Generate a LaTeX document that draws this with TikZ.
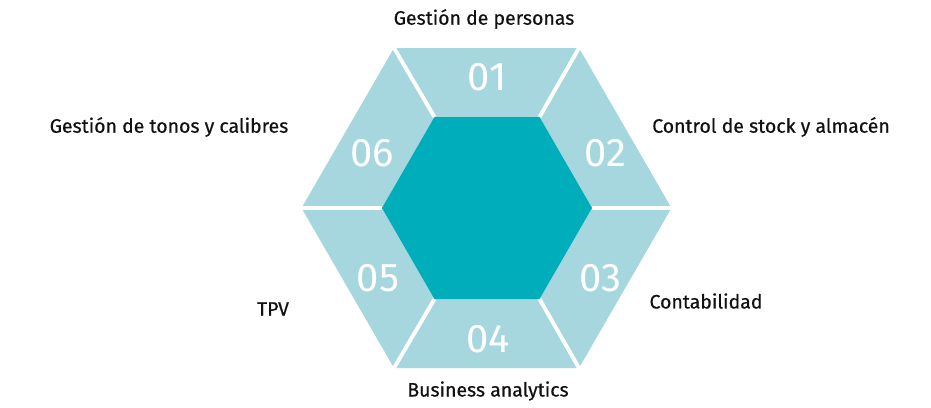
\documentclass[tikz,border=0pt]{standalone}
\usepackage{fontspec}
\setmainfont{Fira Sans}
\newfontfamily\lblfont[FakeBold=0.5]{Fira Sans}
\usetikzlibrary{calc}
\definecolor{seglight}{HTML}{A6D7DE}
\definecolor{segdark}{HTML}{00AEBB}
\definecolor{txt}{HTML}{111111}
\begin{document}
\begin{tikzpicture}[x=0.75pt,y=-0.75pt,
  lbl/.style={text=txt,font=\lblfont\fontsize{14.6}{16}\selectfont,inner sep=0pt},
  num/.style={text=white,font=\fontsize{30}{32}\selectfont,inner sep=0pt},
  gap/.style={white,line width=2.9pt}]
\useasboundingbox (0,0) rectangle (931,407);
% outer hexagon vertices
\coordinate (oL) at (301.5,208);
\coordinate (oTL) at (394,48);
\coordinate (oTR) at (579,48);
\coordinate (oR) at (671.5,208);
\coordinate (oBR) at (579,368);
\coordinate (oBL) at (394,368);
% inner hexagon vertices
\coordinate (iL) at (382,208);
\coordinate (iTL) at (434.5,117);
\coordinate (iTR) at (539.5,117);
\coordinate (iR) at (592,208);
\coordinate (iBR) at (539.5,299);
\coordinate (iBL) at (434.5,299);
\fill[seglight] (oL) -- (oTL) -- (oTR) -- (oR) -- (oBR) -- (oBL) -- cycle;
\fill[segdark] (iL) -- (iTL) -- (iTR) -- (iR) -- (iBR) -- (iBL) -- cycle;
\draw[gap] (iL) -- ($(iL)!1.03!(oL)$);
\draw[gap] (iTL) -- ($(iTL)!1.03!(oTL)$);
\draw[gap] (iTR) -- ($(iTR)!1.03!(oTR)$);
\draw[gap] (iR) -- ($(iR)!1.03!(oR)$);
\draw[gap] (iBR) -- ($(iBR)!1.03!(oBR)$);
\draw[gap] (iBL) -- ($(iBL)!1.03!(oBL)$);
% numbers
\node[num] (n1) at (487,77) {01};
\node[num] (n2) at (605,153) {02};
\node[num] (n3) at (600,278) {03};
\node[num] (n4) at (488,339) {04};
\node[num] (n5) at (378,278) {05};
\node[num] (n6) at (372,153) {06};
% labels
\node[lbl] (l1) at (484,19) {Gestión de personas};
\node[lbl] (l2) at (771,127) {Control de stock y almacén};
\node[lbl] (l3) at (706,301) {Contabilidad};
\node[lbl] (l4) at (488,391) {Business analytics};
\node[lbl] (l5) at (273,309) {TPV};
\node[lbl] (l6) at (169,127) {Gestión de tonos y calibres};
\end{tikzpicture}
\end{document}
